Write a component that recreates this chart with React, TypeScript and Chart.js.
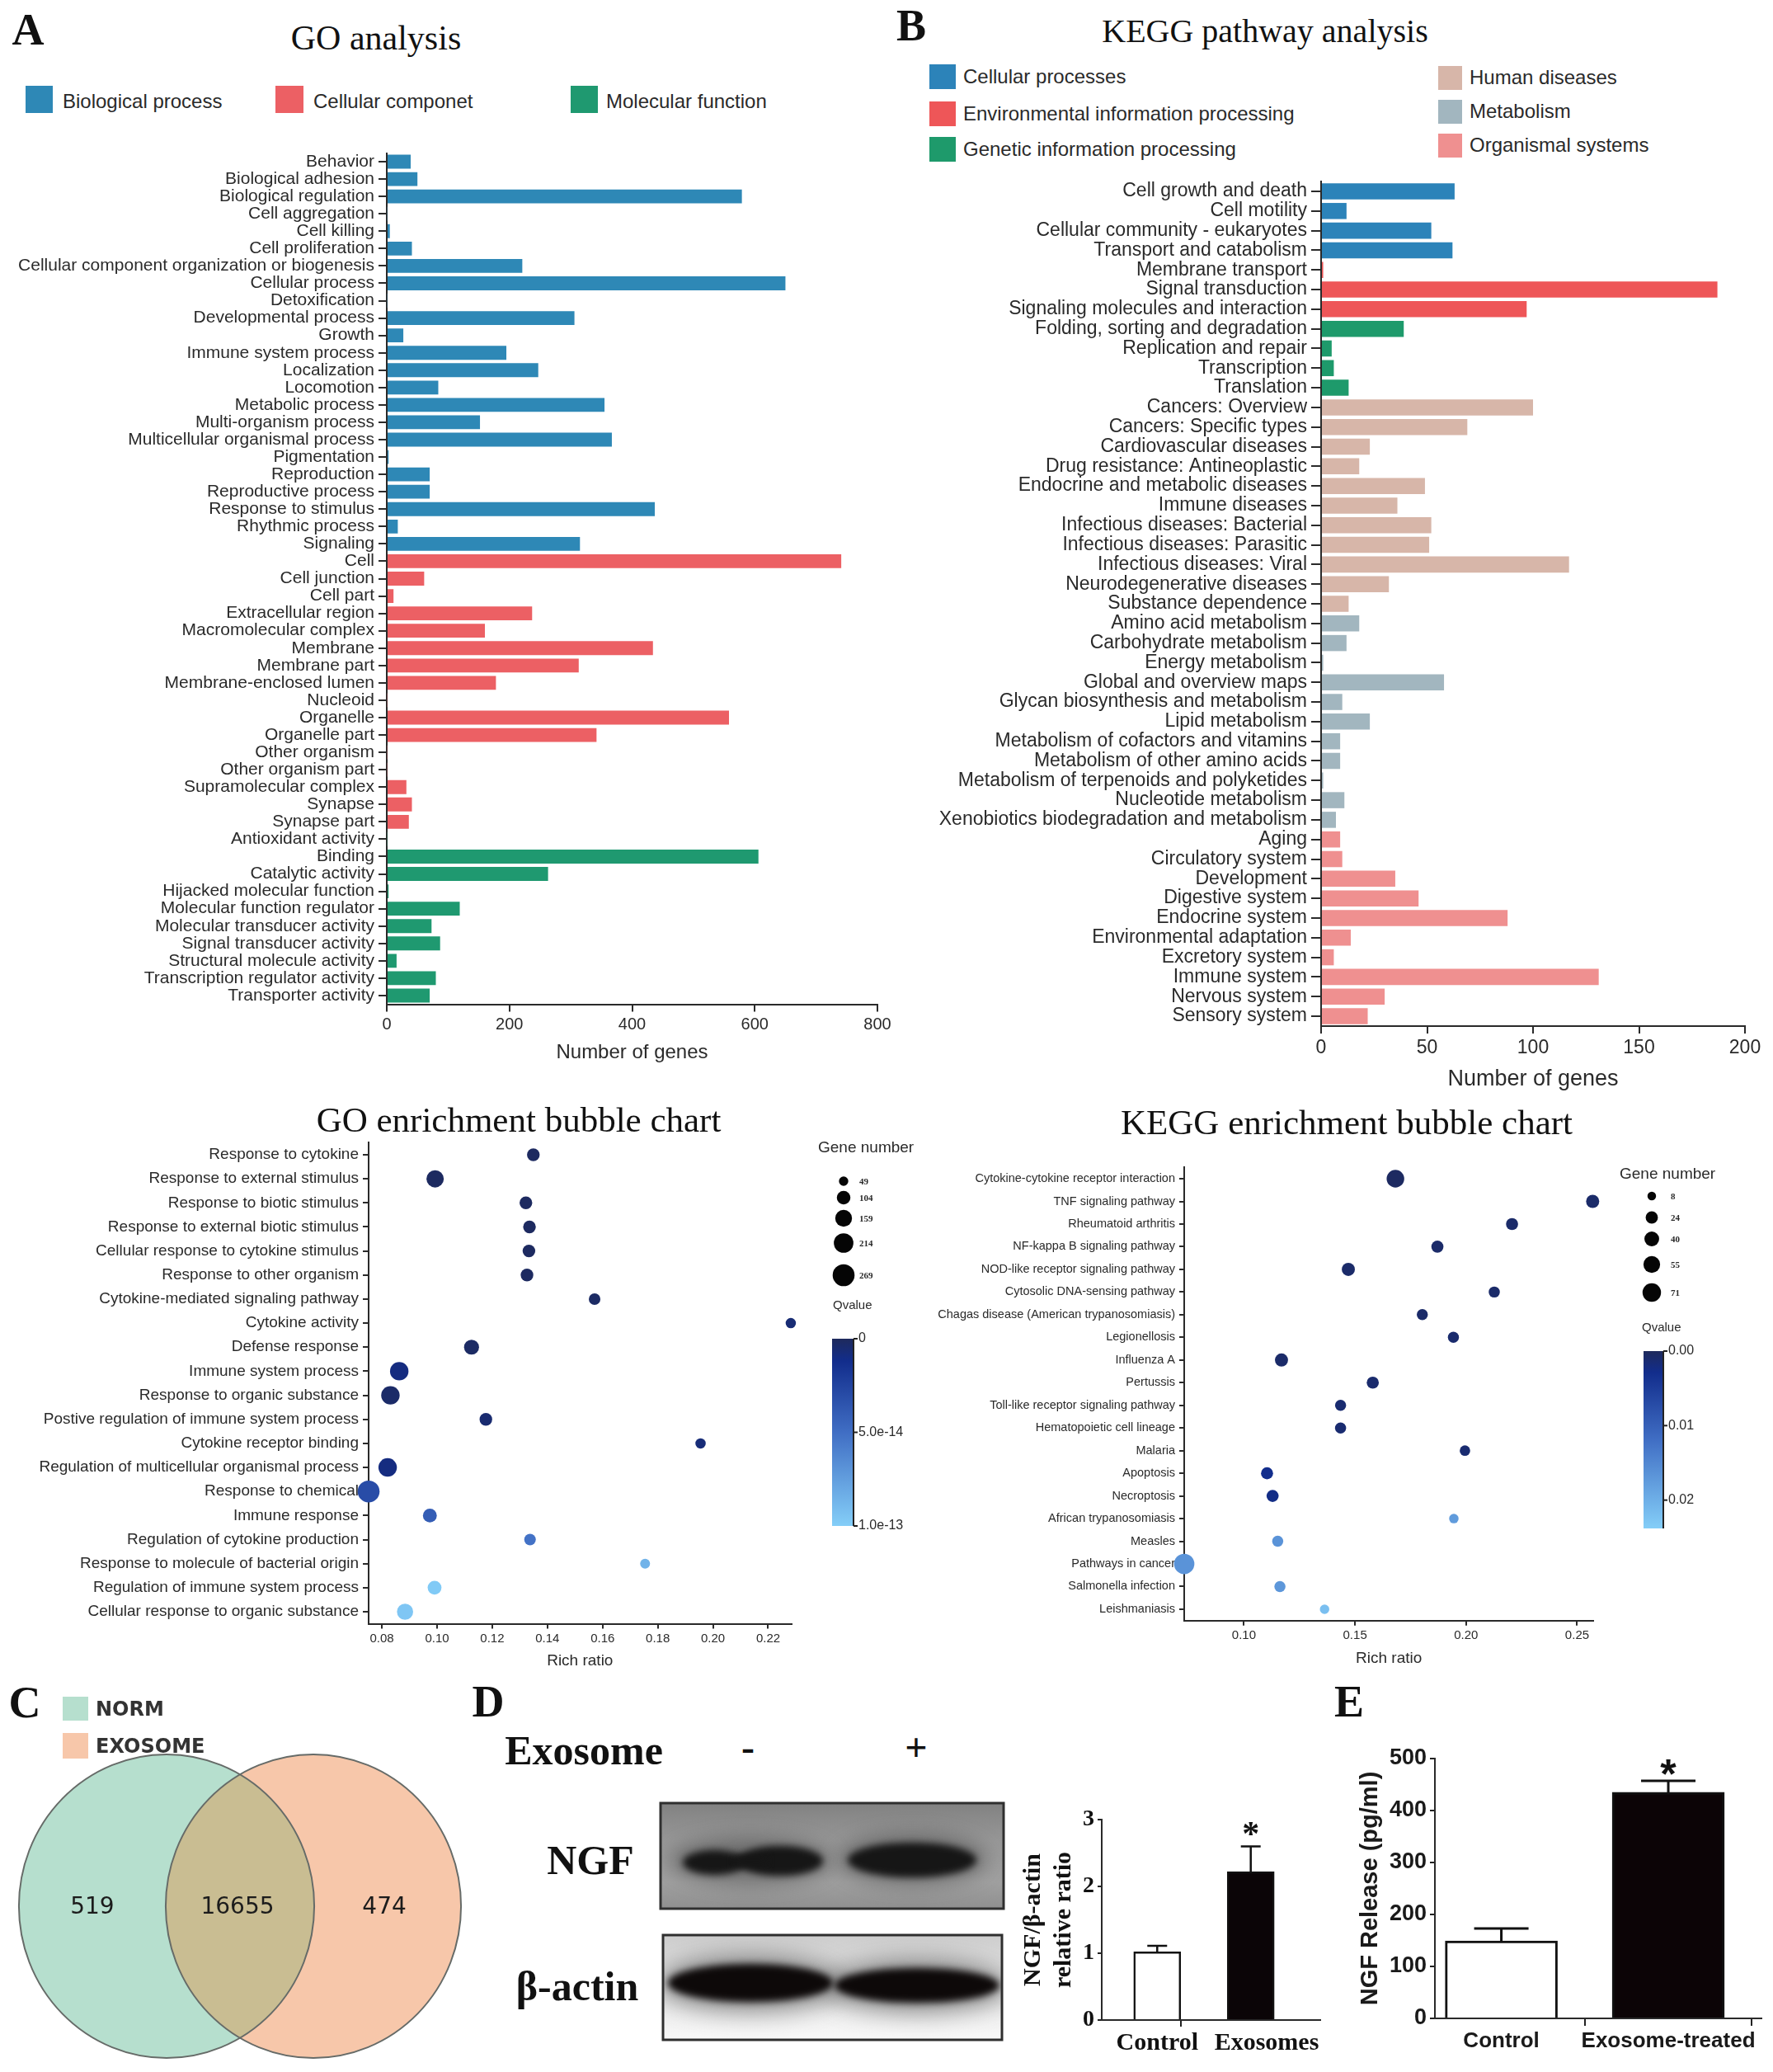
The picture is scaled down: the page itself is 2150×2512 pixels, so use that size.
import React, { useEffect, useRef } from 'react';
import { Chart, registerables } from 'chart.js';

Chart.register(...registerables);

const SANS = '"Liberation Sans", Arial, Helvetica, sans-serif';
const SERIF = '"Liberation Serif", "Times New Roman", Times, serif';
const DJV = '"DejaVu Sans", Verdana, sans-serif';
const INK = '#2a2a2a';
Chart.defaults.font.family = SANS;

/* ---------------- A: GO analysis ---------------- */
const GO_GROUPS = ['Biological process', 'Cellular componet', 'Molecular function'];
const GO_BP_TERMS = ['Behavior', 'Biological adhesion', 'Biological regulation', 'Cell aggregation', 'Cell killing', 'Cell proliferation', 'Cellular component organization or biogenesis', 'Cellular process', 'Detoxification', 'Developmental process', 'Growth', 'Immune system process', 'Localization', 'Locomotion', 'Metabolic process', 'Multi-organism process', 'Multicellular organismal process', 'Pigmentation', 'Reproduction', 'Reproductive process', 'Response to stimulus', 'Rhythmic process', 'Signaling'];
const GO_BP_COUNTS = [39, 50, 579, 1, 5, 41, 221, 650, 1, 306, 27, 195, 247, 84, 355, 152, 367, 3, 70, 70, 437, 18, 315];
const GO_CC_TERMS = ['Cell', 'Cell junction', 'Cell part', 'Extracellular region', 'Macromolecular complex', 'Membrane', 'Membrane part', 'Membrane-enclosed lumen', 'Nucleoid', 'Organelle', 'Organelle part', 'Other organism', 'Other organism part', 'Supramolecular complex', 'Synapse', 'Synapse part'];
const GO_CC_COUNTS = [741, 61, 11, 237, 160, 434, 313, 178, 1, 558, 342, 1, 1, 32, 41, 36];
const GO_MF_TERMS = ['Antioxidant activity', 'Binding', 'Catalytic activity', 'Hijacked molecular function', 'Molecular function regulator', 'Molecular transducer activity', 'Signal transducer activity', 'Structural molecule activity', 'Transcription regulator activity', 'Transporter activity'];
const GO_MF_COUNTS = [1, 606, 263, 3, 119, 73, 87, 16, 80, 70];
const GO_X_TICKS = [0, 200, 400, 600, 800];

/* ---------------- B: KEGG pathway analysis ---------------- */
const KEGG_GROUPS = ['Cellular processes', 'Environmental information processing', 'Genetic information processing', 'Human diseases', 'Metabolism', 'Organismal systems'];
const KEGG_CP_TERMS = ['Cell growth and death', 'Cell motility', 'Cellular community - eukaryotes', 'Transport and catabolism'];
const KEGG_CP_COUNTS = [63, 12, 52, 62];
const KEGG_EIP_TERMS = ['Membrane transport', 'Signal transduction', 'Signaling molecules and interaction'];
const KEGG_EIP_COUNTS = [1, 187, 97];
const KEGG_GIP_TERMS = ['Folding, sorting and degradation', 'Replication and repair', 'Transcription', 'Translation'];
const KEGG_GIP_COUNTS = [39, 5, 6, 13];
const KEGG_HD_TERMS = ['Cancers: Overview', 'Cancers: Specific types', 'Cardiovascular diseases', 'Drug resistance: Antineoplastic', 'Endocrine and metabolic diseases', 'Immune diseases', 'Infectious diseases: Bacterial', 'Infectious diseases: Parasitic', 'Infectious diseases: Viral', 'Neurodegenerative diseases', 'Substance dependence'];
const KEGG_HD_COUNTS = [100, 69, 23, 18, 49, 36, 52, 51, 117, 32, 13];
const KEGG_MET_TERMS = ['Amino acid metabolism', 'Carbohydrate metabolism', 'Energy metabolism', 'Global and overview maps', 'Glycan biosynthesis and metabolism', 'Lipid metabolism', 'Metabolism of cofactors and vitamins', 'Metabolism of other amino acids', 'Metabolism of terpenoids and polyketides', 'Nucleotide metabolism', 'Xenobiotics biodegradation and metabolism'];
const KEGG_MET_COUNTS = [18, 12, 1, 58, 10, 23, 9, 9, 1, 11, 7];
const KEGG_OS_TERMS = ['Aging', 'Circulatory system', 'Development', 'Digestive system', 'Endocrine system', 'Environmental adaptation', 'Excretory system', 'Immune system', 'Nervous system', 'Sensory system'];
const KEGG_OS_COUNTS = [9, 10, 35, 46, 88, 14, 6, 131, 30, 22];
const KEGG_X_TICKS = [0, 50, 100, 150, 200];

/* ---------------- GO enrichment bubble ---------------- */
const GO_BUBBLE_TERMS = ['Response to cytokine', 'Response to external stimulus', 'Response to biotic stimulus', 'Response to external biotic stimulus', 'Cellular response to cytokine stimulus', 'Response to other organism', 'Cytokine-mediated signaling pathway', 'Cytokine activity', 'Defense response', 'Immune system process', 'Response to organic substance', 'Postive regulation of immune system process', 'Cytokine receptor binding', 'Regulation of multicellular organismal process', 'Response to chemical', 'Immune response', 'Regulation of cytokine production', 'Response to molecule of bacterial origin', 'Regulation of immune system process', 'Cellular response to organic substance'];
const GO_RICH_RATIO = [0.1349, 0.0993, 0.1322, 0.1335, 0.1333, 0.1326, 0.1571, 0.2282, 0.1125, 0.0863, 0.0831, 0.1177, 0.1955, 0.0821, 0.0752, 0.0974, 0.1337, 0.1754, 0.0991, 0.0884];
const GO_GENE_NUMBER = [90, 168, 90, 90, 90, 90, 75, 60, 126, 191, 191, 90, 60, 191, 269, 108, 75, 55, 108, 147];
const GO_QVALUE = [1e-15, 1e-15, 1e-15, 1e-15, 1e-15, 1e-15, 2e-15, 6e-15, 2e-15, 9e-15, 3e-15, 5e-15, 7e-15, 9e-15, 3e-14, 4e-14, 5.2e-14, 8.6e-14, 9.8e-14, 9.6e-14];
const GO_RICH_TICKS = [0.08, 0.10, 0.12, 0.14, 0.16, 0.18, 0.20, 0.22];
const GO_SIZE_LEGEND = [49, 104, 159, 214, 269];
const GO_Q_TICKS = [0, 5e-14, 1e-13];
const GO_Q_TICK_LABELS = ['0', '5.0e-14', '1.0e-13'];
const GO_Q_MAX = 1e-13;

/* ---------------- KEGG enrichment bubble ---------------- */
const KEGG_BUBBLE_TERMS = ['Cytokine-cytokine receptor interaction', 'TNF signaling pathway', 'Rheumatoid arthritis', 'NF-kappa B signaling pathway', 'NOD-like receptor signaling pathway', 'Cytosolic DNA-sensing pathway', 'Chagas disease (American trypanosomiasis)', 'Legionellosis', 'Influenza A', 'Pertussis', 'Toll-like receptor signaling pathway', 'Hematopoietic cell lineage', 'Malaria', 'Apoptosis', 'Necroptosis', 'African trypanosomiasis', 'Measles', 'Pathways in cancer', 'Salmonella infection', 'Leishmaniasis'];
const KEGG_RICH_RATIO = [0.1682, 0.2570, 0.2207, 0.1871, 0.1470, 0.2127, 0.1803, 0.1943, 0.1169, 0.1580, 0.1435, 0.1435, 0.1995, 0.1104, 0.1129, 0.1945, 0.1152, 0.0731, 0.1162, 0.1363];
const KEGG_GENE_NUMBER = [63, 29, 23, 23, 29, 18, 18, 18, 29, 23, 18, 18, 15, 23, 23, 11, 18, 90, 18, 11];
const KEGG_QVALUE = [0.0003, 0.0008, 0.0008, 0.0008, 0.0008, 0.0008, 0.0008, 0.001, 0.0008, 0.001, 0.0012, 0.0012, 0.0012, 0.003, 0.0025, 0.0175, 0.0165, 0.0165, 0.017, 0.022];
const KEGG_RICH_TICKS = [0.10, 0.15, 0.20, 0.25];
const KEGG_SIZE_LEGEND = [8, 24, 40, 55, 71];
const KEGG_Q_TICKS = [0, 0.01, 0.02];
const KEGG_Q_TICK_LABELS = ['0.00', '0.01', '0.02'];
const KEGG_Q_MAX = 0.0238;

/* ---------------- C: Venn ---------------- */
const VENN_SETS = ['NORM', 'EXOSOME'];
const VENN_COUNTS = [519, 16655, 474];

/* ---------------- D: NGF / beta-actin ---------------- */
const D_GROUPS = ['Control', 'Exosomes'];
const D_MEANS = [1.02, 2.22];
const D_ERRORS = [0.09, 0.38];
const D_Y_TICKS = [0, 1, 2, 3];

/* ---------------- E: NGF release ---------------- */
const E_GROUPS = ['Control', 'Exosome-treated'];
const E_MEANS = [149, 435];
const E_ERRORS = [24, 22];
const E_Y_TICKS = [0, 100, 200, 300, 400, 500];

/* ---------------- styles ---------------- */
const GO_COLORS = ['#2e88b6', '#ec6064', '#1f9970'];
const KEGG_COLORS = ['#2c83b9', '#ee5658', '#1e9a6b', '#d7b6a9', '#a2b6bf', '#ef9090'];
const Q_STOPS: [number, number[]][] = [[0, [30, 42, 92]], [0.12, [18, 45, 140]], [0.5, [64, 110, 196]], [1, [132, 206, 248]]];
const VENN_FILL = ['#b6dfce', '#f7c7aa'];
const VENN_OVERLAP = '#c9bd92';

function qColor(t: number) {
  const tt = Math.max(0, Math.min(1, t));
  for (let i = 1; i < Q_STOPS.length; i++) {
    const [t0, c0] = Q_STOPS[i - 1];
    const [t1, c1] = Q_STOPS[i];
    if (tt <= t1) {
      const f = (tt - t0) / (t1 - t0);
      return `rgb(${c0.map((v, k) => Math.round(v + (c1[k] - v) * f)).join(',')})`;
    }
  }
  return `rgb(${Q_STOPS[Q_STOPS.length - 1][1].join(',')})`;
}
const goRadius = (g: number) => 0.81 * Math.sqrt(g);
const keggRadius = (g: number) => 2.2 + 1.07 * Math.sqrt(g);

const fixW = (w: number) => (s: any) => { s.width = w; };
const fixH = (h: number) => (s: any) => { s.height = h; };
const tickGrid = (len: number, color = '#2a2a2a') => ({ display: true, drawOnChartArea: false, drawTicks: true, tickLength: len, color, lineWidth: 2 });
const border = { display: true, color: '#2a2a2a', width: 2 };
const base = { responsive: false, animation: false as const, devicePixelRatio: 1 };
const noPlug = { legend: { display: false }, tooltip: { enabled: false } };
const setTicks = (vals: number[]) => (s: any) => { s.ticks = vals.map((v) => ({ value: v })); };

function hbarConfig(terms: string[], counts: number[], colors: string[], o: any) {
  return {
    type: 'bar',
    data: { labels: terms, datasets: [{ data: counts, backgroundColor: colors, borderWidth: 0, barPercentage: o.barPct, categoryPercentage: 1 }] },
    options: {
      ...base,
      indexAxis: 'y',
      layout: { padding: { left: 0, top: o.padTop, right: o.padRight, bottom: 0 } },
      plugins: noPlug,
      scales: {
        x: {
          type: 'linear', min: 0, max: o.max, afterBuildTicks: setTicks(o.xTicks),
          ticks: { font: { family: SANS, size: o.tickSize }, color: INK, padding: 4, maxRotation: 0 },
          grid: tickGrid(9), border,
          title: { display: true, text: 'Number of genes', font: { family: SANS, size: o.titleSize }, color: INK, padding: { top: 0, bottom: o.titlePad } },
          afterFit: fixH(o.xH),
        },
        y: {
          type: 'category',
          ticks: { autoSkip: false, font: { family: SANS, size: o.labelSize }, color: INK, padding: o.labPad },
          grid: { ...tickGrid(o.tickLen), offset: false }, border,
          afterFit: fixW(o.yW),
        },
      },
    },
  };
}

function bubbleLegendPlugin(c: any) {
  return {
    id: 'bubbleLegend',
    afterDraw(chart: any) {
      const ctx = chart.ctx;
      ctx.save();
      ctx.fillStyle = INK;
      ctx.textAlign = 'left';
      ctx.textBaseline = 'middle';
      ctx.font = `19px ${SANS}`;
      ctx.fillText('Gene number', c.titleX, c.titleY);
      c.sizes.forEach((g: number, i: number) => {
        ctx.beginPath();
        ctx.arc(c.dotX, c.dotYs[i], c.radius(g), 0, Math.PI * 2);
        ctx.fillStyle = '#050505';
        ctx.fill();
        ctx.fillStyle = INK;
        ctx.font = `bold 11px ${SERIF}`;
        ctx.fillText(String(g), c.labX, c.dotYs[i] + 1);
      });
      ctx.font = `15px ${SANS}`;
      ctx.fillText('Qvalue', c.qX, c.qY);
      const grad = ctx.createLinearGradient(0, c.barTop, 0, c.barBottom);
      Q_STOPS.forEach(([t, col]) => grad.addColorStop(t, `rgb(${col.join(',')})`));
      ctx.fillStyle = grad;
      ctx.fillRect(c.barX, c.barTop, c.barW, c.barBottom - c.barTop);
      const xr = c.barX + c.barW;
      ctx.strokeStyle = '#222';
      ctx.lineWidth = 2;
      ctx.beginPath();
      ctx.moveTo(xr, c.barTop);
      ctx.lineTo(xr, c.barBottom);
      ctx.stroke();
      ctx.font = `16px ${SANS}`;
      ctx.fillStyle = INK;
      c.ticks.forEach((v: number, i: number) => {
        const y = c.barTop + (v / c.qMax) * (c.barBottom - c.barTop);
        ctx.beginPath();
        ctx.moveTo(xr, y);
        ctx.lineTo(xr + 5, y);
        ctx.stroke();
        ctx.fillText(c.tickLabels[i], xr + 6, y);
      });
      ctx.restore();
    },
  };
}

function bubbleConfig(terms: string[], xs: number[], genes: number[], qs: number[], o: any) {
  return {
    type: 'bubble',
    data: {
      datasets: [{
        data: terms.map((t, i) => ({ x: xs[i], y: t, r: o.radius(genes[i]) })),
        backgroundColor: qs.map((q) => qColor(q / o.qMax)),
        borderWidth: 0,
        clip: false,
      }],
    },
    options: {
      ...base,
      layout: { autoPadding: false, padding: { left: 0, top: o.padTop, right: o.padRight, bottom: 0 } },
      plugins: noPlug,
      scales: {
        x: {
          type: 'linear', min: o.min, max: o.max, afterBuildTicks: setTicks(o.xTicks),
          ticks: { callback: (v: any) => Number(v).toFixed(2), font: { family: SANS, size: 15 }, color: INK, padding: 3, maxRotation: 0 },
          grid: tickGrid(6), border,
          title: { display: true, text: 'Rich ratio', font: { family: SANS, size: 19 }, color: INK, padding: { top: 0, bottom: o.titlePad } },
          afterFit: fixH(o.xH),
        },
        y: {
          type: 'category', labels: terms, offset: true,
          ticks: { autoSkip: false, font: { family: SANS, size: o.labelSize }, color: INK, padding: 5 },
          grid: { ...tickGrid(o.tickLen), offset: false }, border,
          afterFit: fixW(o.yW),
        },
      },
    },
    plugins: [bubbleLegendPlugin(o.legend)],
  };
}

function errorBarPlugin(errors: number[], capW: number, lw: number, star: any) {
  return {
    id: 'errorBars',
    afterDatasetsDraw(chart: any) {
      const ctx = chart.ctx;
      const meta = chart.getDatasetMeta(0);
      const ys = chart.scales.y;
      const data = chart.data.datasets[0].data;
      ctx.save();
      ctx.strokeStyle = '#111';
      ctx.lineWidth = lw;
      meta.data.forEach((bar: any, i: number) => {
        const m = data[i].y;
        const yb = ys.getPixelForValue(m);
        const yt = ys.getPixelForValue(m + errors[i]);
        ctx.beginPath();
        ctx.moveTo(bar.x, yb);
        ctx.lineTo(bar.x, yt);
        ctx.moveTo(bar.x - capW / 2, yt);
        ctx.lineTo(bar.x + capW / 2, yt);
        ctx.stroke();
        if (i === star.index) {
          ctx.fillStyle = '#111';
          ctx.font = star.font;
          ctx.textAlign = 'center';
          ctx.textBaseline = 'alphabetic';
          ctx.fillText('*', bar.x, yt + star.dy);
        }
      });
      ctx.restore();
    },
  };
}

const vennPlugin = {
  id: 'venn',
  afterDraw(chart: any) {
    const ctx = chart.ctx;
    const xs = chart.scales.x;
    const ys = chart.scales.y;
    const c1 = xs.getPixelForValue(0);
    const c2 = xs.getPixelForValue(1);
    const cy = ys.getPixelForValue(0);
    const rx = xs.getPixelForValue(1.006) - c1;
    const ry = cy - ys.getPixelForValue(1.034);
    const path = (cx: number) => { ctx.beginPath(); ctx.ellipse(cx, cy, rx, ry, 0, 0, Math.PI * 2); };
    ctx.save();
    path(c1); ctx.fillStyle = VENN_FILL[0]; ctx.fill();
    path(c2); ctx.fillStyle = VENN_FILL[1]; ctx.fill();
    ctx.save(); path(c1); ctx.clip(); path(c2); ctx.fillStyle = VENN_OVERLAP; ctx.fill(); ctx.restore();
    ctx.lineWidth = 2; ctx.strokeStyle = '#666b68';
    path(c1); ctx.stroke(); path(c2); ctx.stroke();
    ctx.fillStyle = '#1c1c1c';
    ctx.font = `28px ${DJV}`;
    ctx.textAlign = 'center';
    ctx.textBaseline = 'middle';
    const mid = (c1 + c2) / 2;
    const pos = [mid - rx, mid - 3, mid + rx - 4];
    VENN_COUNTS.forEach((n, i) => ctx.fillText(String(n), pos[i], cy + 2));
    ctx.restore();
  },
};

function blob(ctx: CanvasRenderingContext2D, cx: number, cy: number, rx: number, ry: number) {
  ctx.beginPath();
  ctx.ellipse(cx, cy, rx, ry, 0, 0, Math.PI * 2);
  ctx.fill();
}

function drawBlot(c: HTMLCanvasElement) {
  const ctx = c.getContext('2d');
  if (!ctx) return;
  ctx.clearRect(0, 0, c.width, c.height);
  // NGF panel
  const p1 = { x: 11, y: 16, w: 416, h: 128 };
  let g = ctx.createLinearGradient(0, p1.y, 0, p1.y + p1.h);
  g.addColorStop(0, '#818181'); g.addColorStop(0.35, '#979797'); g.addColorStop(0.75, '#a0a0a0'); g.addColorStop(1, '#8f8f8f');
  ctx.fillStyle = g; ctx.fillRect(p1.x, p1.y, p1.w, p1.h);
  ctx.save();
  ctx.beginPath(); ctx.rect(p1.x, p1.y, p1.w, p1.h); ctx.clip();
  ctx.filter = 'blur(12px)'; ctx.fillStyle = 'rgba(70,70,70,0.55)';
  blob(ctx, 120, 86, 98, 28); blob(ctx, 316, 84, 90, 30);
  ctx.filter = 'blur(4px)'; ctx.fillStyle = '#161616';
  blob(ctx, 76, 88, 38, 15); blob(ctx, 156, 86, 52, 18); ctx.fillRect(100, 80, 40, 13);
  blob(ctx, 316, 85, 78, 21);
  ctx.restore();
  ctx.filter = 'none';
  ctx.strokeStyle = '#2f2f2f'; ctx.lineWidth = 3; ctx.strokeRect(p1.x, p1.y, p1.w, p1.h);
  // beta-actin panel
  const p2 = { x: 14, y: 176, w: 411, h: 127 };
  g = ctx.createLinearGradient(0, p2.y, 0, p2.y + p2.h);
  g.addColorStop(0, '#cdcdcd'); g.addColorStop(0.3, '#dedede'); g.addColorStop(1, '#f8f8f8');
  ctx.fillStyle = g; ctx.fillRect(p2.x, p2.y, p2.w, p2.h);
  ctx.save();
  ctx.beginPath(); ctx.rect(p2.x, p2.y, p2.w, p2.h); ctx.clip();
  ctx.filter = 'blur(14px)'; ctx.fillStyle = 'rgba(60,60,60,0.55)';
  blob(ctx, 120, 235, 112, 34); blob(ctx, 322, 238, 110, 32);
  ctx.filter = 'blur(4px)'; ctx.fillStyle = '#0d0909';
  blob(ctx, 120, 234, 100, 23); blob(ctx, 322, 237, 100, 21);
  ctx.restore();
  ctx.filter = 'none';
  ctx.strokeStyle = '#2f2f2f'; ctx.lineWidth = 3; ctx.strokeRect(p2.x, p2.y, p2.w, p2.h);
}

type TP = { x: number; y: number; size: number; font?: string; weight?: any; color?: string; center?: boolean; children: React.ReactNode };
function Txt({ x, y, size, font = SANS, weight = 'normal', color = INK, center = false, children }: TP) {
  return (
    <div style={{ position: 'absolute', left: x, top: y, transform: center ? 'translate(-50%,-50%)' : 'translate(0,-50%)', fontFamily: font, fontSize: size, fontWeight: weight, color, lineHeight: 1, whiteSpace: 'nowrap' }}>
      {children}
    </div>
  );
}
function Box({ x, y, w, h, color }: { x: number; y: number; w: number; h: number; color: string }) {
  return <div style={{ position: 'absolute', left: x, top: y, width: w, height: h, background: color }} />;
}
const cv = (left: number, top: number) => ({ position: 'absolute' as const, left, top });

export default function App() {
  const goBar = useRef<HTMLCanvasElement>(null);
  const keggBar = useRef<HTMLCanvasElement>(null);
  const goBub = useRef<HTMLCanvasElement>(null);
  const keggBub = useRef<HTMLCanvasElement>(null);
  const venn = useRef<HTMLCanvasElement>(null);
  const blot = useRef<HTMLCanvasElement>(null);
  const dBar = useRef<HTMLCanvasElement>(null);
  const eBar = useRef<HTMLCanvasElement>(null);

  useEffect(() => {
    const charts: Chart[] = [];
    const mk = (el: HTMLCanvasElement | null, cfg: any) => { if (el) charts.push(new Chart(el, cfg)); };

    const goTerms = [...GO_BP_TERMS, ...GO_CC_TERMS, ...GO_MF_TERMS];
    const goCounts = [...GO_BP_COUNTS, ...GO_CC_COUNTS, ...GO_MF_COUNTS];
    const goCols = [...GO_BP_TERMS.map(() => GO_COLORS[0]), ...GO_CC_TERMS.map(() => GO_COLORS[1]), ...GO_MF_TERMS.map(() => GO_COLORS[2])];
    mk(goBar.current, hbarConfig(goTerms, goCounts, goCols, {
      barPct: 0.8, padTop: 35.5, padRight: 36, max: 800, xTicks: GO_X_TICKS, tickSize: 20, titleSize: 24, titlePad: 29.6, xH: 102.5, labelSize: 21, labPad: 5, tickLen: 10, yW: 469,
    }));

    const kGroups = [KEGG_CP_TERMS, KEGG_EIP_TERMS, KEGG_GIP_TERMS, KEGG_HD_TERMS, KEGG_MET_TERMS, KEGG_OS_TERMS];
    const kTerms = kGroups.flat();
    const kCounts = [...KEGG_CP_COUNTS, ...KEGG_EIP_COUNTS, ...KEGG_GIP_COUNTS, ...KEGG_HD_COUNTS, ...KEGG_MET_COUNTS, ...KEGG_OS_COUNTS];
    const kCols = kGroups.flatMap((grp, gi) => grp.map(() => KEGG_COLORS[gi]));
    mk(keggBar.current, hbarConfig(kTerms, kCounts, kCols, {
      barPct: 0.82, padTop: 20.1, padRight: 34, max: 200, xTicks: KEGG_X_TICKS, tickSize: 23, titleSize: 27, titlePad: 24.8, xH: 106.1, labelSize: 23, labPad: 5, tickLen: 12, yW: 512,
    }));

    mk(goBub.current, bubbleConfig(GO_BUBBLE_TERMS, GO_RICH_RATIO, GO_GENE_NUMBER, GO_QVALUE, {
      radius: goRadius, qMax: GO_Q_MAX, padTop: 55.4, padRight: 160.4, min: 0.0752, max: 0.2284, xTicks: GO_RICH_TICKS, titlePad: 24.6, xH: 81.4, labelSize: 19, tickLen: 7, yW: 447,
      legend: { titleX: 992, titleY: 62, sizes: GO_SIZE_LEGEND, radius: goRadius, dotX: 1023, dotYs: [102, 122, 147, 177, 216], labX: 1042, qX: 1010, qY: 253, barX: 1009, barW: 26, barTop: 293, barBottom: 520, ticks: GO_Q_TICKS, tickLabels: GO_Q_TICK_LABELS, qMax: GO_Q_MAX },
    }));

    mk(keggBub.current, bubbleConfig(KEGG_BUBBLE_TERMS, KEGG_RICH_RATIO, KEGG_GENE_NUMBER, KEGG_QVALUE, {
      radius: keggRadius, qMax: KEGG_Q_MAX, padTop: 85.3, padRight: 217.6, min: 0.0731, max: 0.2574, xTicks: KEGG_RICH_TICKS, titlePad: 27.6, xH: 85.3, labelSize: 14.5, tickLen: 6, yW: 346,
      legend: { titleX: 874, titleY: 94, sizes: KEGG_SIZE_LEGEND, radius: keggRadius, dotX: 913, dotYs: [120, 146, 172, 203, 237], labX: 936, qX: 901, qY: 280, barX: 903, barW: 24, barTop: 308, barBottom: 523, ticks: KEGG_Q_TICKS, tickLabels: KEGG_Q_TICK_LABELS, qMax: KEGG_Q_MAX },
    }));

    mk(venn.current, {
      type: 'scatter',
      data: { datasets: [] },
      options: {
        ...base,
        layout: { padding: 0 },
        plugins: noPlug,
        scales: { x: { type: 'linear', display: false, min: -1.1348, max: 2.1236 }, y: { type: 'linear', display: false, min: -1.1292, max: 1.5225 } },
      },
      plugins: [vennPlugin],
    });

    mk(dBar.current, {
      type: 'bar',
      data: { datasets: [{ data: D_MEANS.map((m, i) => ({ x: i + 1, y: m })), backgroundColor: ['#ffffff', '#0b0507'], borderColor: '#111', borderWidth: 2.5, barThickness: 57 }] },
      options: {
        ...base,
        layout: { padding: { left: 0, right: 19, top: 56, bottom: 0 } },
        plugins: noPlug,
        scales: {
          x: {
            type: 'linear', offset: false, min: 0.407, max: 2.743,
            afterBuildTicks: setTicks([1, 1.5, 2.17]),
            ticks: { callback: (v: any) => (v < 1.25 ? D_GROUPS[0] : v > 1.75 ? D_GROUPS[1] : ''), font: { family: SERIF, size: 30, weight: 'bold' }, color: '#111', padding: 2, maxRotation: 0, autoSkip: false },
            grid: { display: true, drawOnChartArea: false, tickLength: 8, lineWidth: 2, color: '#222', tickColor: (c: any) => (c.tick && Math.abs(c.tick.value - 1.5) < 0.01 ? '#222' : 'rgba(0,0,0,0)') },
            border, afterFit: fixH(63),
          },
          y: {
            type: 'linear', min: 0, max: 3, afterBuildTicks: setTicks(D_Y_TICKS),
            ticks: { font: { family: SERIF, size: 28, weight: 'bold' }, color: '#111', padding: 4 },
            grid: tickGrid(5, '#222'), border,
            title: { display: true, text: ['NGF/β-actin', 'relative ratio'], font: { family: SERIF, size: 30, weight: 'bold', lineHeight: 1.23 }, color: '#111', padding: { top: 54.5, bottom: 0 } },
            afterFit: fixW(156),
          },
        },
      },
      plugins: [errorBarPlugin(D_ERRORS, 24, 2.5, { index: 1, font: `bold 42px ${SERIF}`, dy: -1 })],
    });

    mk(eBar.current, {
      type: 'bar',
      data: { datasets: [{ data: E_MEANS.map((m, i) => ({ x: i + 1, y: m })), backgroundColor: ['#ffffff', '#0c0406'], borderColor: '#111', borderWidth: 3, barThickness: 136 }] },
      options: {
        ...base,
        layout: { padding: { left: 0, right: 14, top: 32, bottom: 0 } },
        plugins: noPlug,
        scales: {
          x: {
            type: 'linear', offset: false, min: 0.602, max: 2.558,
            afterBuildTicks: setTicks([1, 2]),
            ticks: { callback: (v: any) => E_GROUPS[Math.round(v) - 1], font: { family: SANS, size: 26, weight: 'bold' }, color: '#1a1a1a', padding: 3, maxRotation: 0, autoSkip: false },
            grid: tickGrid(9, '#222'), border, afterFit: fixH(65),
          },
          y: {
            type: 'linear', min: 0, max: 500, afterBuildTicks: setTicks(E_Y_TICKS),
            ticks: { font: { family: SANS, size: 27, weight: 'bold' }, color: '#1a1a1a', padding: 4 },
            grid: tickGrid(6, '#222'), border,
            title: { display: true, text: 'NGF Release (pg/ml)', font: { family: SANS, size: 29, weight: 'bold' }, color: '#1a1a1a', padding: { top: 4.6, bottom: 0 } },
            afterFit: fixW(100),
          },
        },
      },
      plugins: [errorBarPlugin(E_ERRORS, 66, 3, { index: 1, font: `bold 50px ${SANS}`, dy: 9 })],
    });

    if (blot.current) drawBlot(blot.current);
    return () => charts.forEach((c) => c.destroy());
  }, []);

  return (
    <div style={{ position: 'absolute', left: 0, top: 0, width: 2150, height: 2512, background: '#ffffff', overflow: 'hidden' }}>
      <canvas ref={goBar} width={1100} height={1170} style={cv(0, 150)} />
      <canvas ref={keggBar} width={1060} height={1150} style={cv(1090, 200)} />
      <canvas ref={goBub} width={1120} height={720} style={cv(0, 1330)} />
      <canvas ref={keggBub} width={1060} height={720} style={cv(1090, 1330)} />
      <canvas ref={venn} width={580} height={472} style={cv(0, 2040)} />
      <canvas ref={blot} width={440} height={320} style={cv(790, 2170)} />
      <canvas ref={dBar} width={440} height={362} style={cv(1180, 2150)} />
      <canvas ref={eBar} width={510} height={412} style={cv(1640, 2100)} />

      {/* Panel A header */}
      <Txt x={34} y={36} size={54} font={SERIF} weight="bold" color="#111" center>A</Txt>
      <Txt x={456} y={46} size={42} font={SERIF} color="#111" center>GO analysis</Txt>
      <Box x={31} y={104} w={33} h={33} color={GO_COLORS[0]} />
      <Box x={334} y={104} w={34} h={33} color={GO_COLORS[1]} />
      <Box x={692} y={104} w={33} h={33} color={GO_COLORS[2]} />
      <Txt x={76} y={123} size={24}>{GO_GROUPS[0]}</Txt>
      <Txt x={380} y={123} size={24}>{GO_GROUPS[1]}</Txt>
      <Txt x={735} y={123} size={24}>{GO_GROUPS[2]}</Txt>

      {/* Panel B header */}
      <Txt x={1105} y={31} size={54} font={SERIF} weight="bold" color="#111" center>B</Txt>
      <Txt x={1534} y={38} size={40} font={SERIF} color="#111" center>KEGG pathway analysis</Txt>
      <Box x={1127} y={78} w={32} h={30} color={KEGG_COLORS[0]} />
      <Box x={1127} y={123} w={32} h={30} color={KEGG_COLORS[1]} />
      <Box x={1127} y={166} w={32} h={30} color={KEGG_COLORS[2]} />
      <Box x={1744} y={80} w={29} h={29} color={KEGG_COLORS[3]} />
      <Box x={1744} y={121} w={29} h={29} color={KEGG_COLORS[4]} />
      <Box x={1744} y={162} w={29} h={29} color={KEGG_COLORS[5]} />
      <Txt x={1168} y={93} size={24}>{KEGG_GROUPS[0]}</Txt>
      <Txt x={1168} y={138} size={24}>{KEGG_GROUPS[1]}</Txt>
      <Txt x={1168} y={181} size={24}>{KEGG_GROUPS[2]}</Txt>
      <Txt x={1782} y={94} size={24}>{KEGG_GROUPS[3]}</Txt>
      <Txt x={1782} y={135} size={24}>{KEGG_GROUPS[4]}</Txt>
      <Txt x={1782} y={176} size={24}>{KEGG_GROUPS[5]}</Txt>

      {/* Bubble titles */}
      <Txt x={629} y={1357} size={43} font={SERIF} color="#111" center>GO enrichment bubble chart</Txt>
      <Txt x={1633} y={1360} size={43} font={SERIF} color="#111" center>KEGG enrichment bubble chart</Txt>

      {/* Panel C */}
      <Txt x={30} y={2064} size={54} font={SERIF} weight="bold" color="#111" center>C</Txt>
      <Box x={76} y={2057} w={31} h={29} color={VENN_FILL[0]} />
      <Box x={76} y={2101} w={31} h={31} color={VENN_FILL[1]} />
      <Txt x={116} y={2072} size={24} font={DJV} weight="bold" color="#333">{VENN_SETS[0]}</Txt>
      <Txt x={116} y={2117} size={24} font={DJV} weight="bold" color="#333">{VENN_SETS[1]}</Txt>

      {/* Panel D */}
      <Txt x={592} y={2063} size={54} font={SERIF} weight="bold" color="#111" center>D</Txt>
      <Txt x={708} y={2122} size={50} font={SERIF} weight="bold" color="#111" center>Exosome</Txt>
      <Txt x={907} y={2118} size={48} font={SERIF} weight="bold" color="#111" center>-</Txt>
      <Txt x={1111} y={2119} size={48} font={SERIF} weight="bold" color="#111" center>+</Txt>
      <Txt x={716} y={2255} size={50} font={SERIF} weight="bold" color="#111" center>NGF</Txt>
      <Txt x={700} y={2408} size={50} font={SERIF} weight="bold" color="#111" center>β-actin</Txt>

      {/* Panel E */}
      <Txt x={1636} y={2063} size={54} font={SERIF} weight="bold" color="#111" center>E</Txt>
    </div>
  );
}
